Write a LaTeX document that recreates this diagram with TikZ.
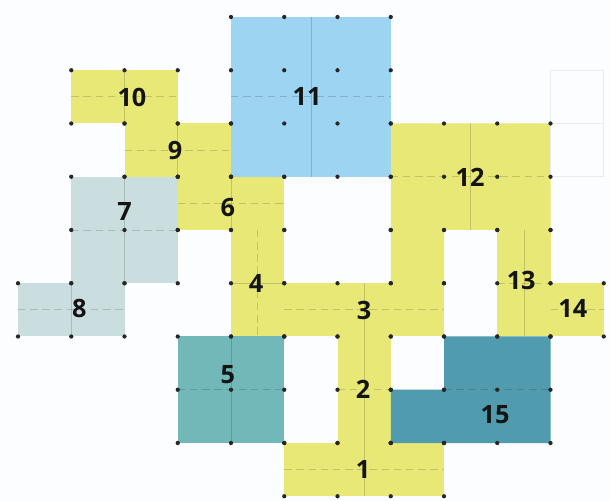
\documentclass[tikz,border=0pt]{standalone}
\usepackage{fontspec}
\setmainfont{Open Sans}
\definecolor{yel}{RGB}{231,232,118}
\definecolor{sky}{RGB}{156,212,242}
\definecolor{pale}{RGB}{202,222,224}
\definecolor{tealA}{RGB}{114,184,184}
\definecolor{tealB}{RGB}{80,155,174}
\definecolor{bgc}{RGB}{251,253,254}
\newcommand\gdots[4]{\foreach \ii in {#1,...,#2}{\foreach \jj in {#3,...,#4}{\fill[dotc] (\ii,\jj) circle (0.04);}}}
\begin{document}
\begin{tikzpicture}[x=1cm,y=-1cm,
  lab/.style={font=\fontsize{13.5}{15}\selectfont\bfseries, text=black!92, inner sep=0pt},
  dotc/.style={fill=black!85},
  inner/.style={draw=black, opacity=0.16, line width=0.4pt},
  midline/.style={inner, dash pattern=on 4pt off 2.5pt}]
\fill[bgc] (-0.338,-0.319) rectangle (11.117,9.089);
\useasboundingbox (-0.338,-0.319) rectangle (11.117,9.089);
% fills
\fill[yel] (5,8) rectangle (8,9);
\fill[yel] (6,6) rectangle (7,8);
\fill[yel] (5,5) rectangle (8,6);
\fill[yel] (4,4) rectangle (5,6);
\fill[tealA] (3,6) rectangle (5,8);
\fill[yel] (3,3) rectangle (5,4);
\fill[pale] (1,3) rectangle (3,5);
\fill[pale] (0,5) rectangle (2,6);
\fill[yel] (2,2) rectangle (4,3);
\fill[yel] (1,1) rectangle (3,2);
\fill[sky] (4,0) rectangle (7,3);
\fill[yel] (7,2) -- (10,2) -- (10,4) -- (8,4) -- (8,5) -- (7,5) -- cycle;
\fill[yel] (9,4) rectangle (10,6);
\fill[yel] (10,5) rectangle (11,6);
\fill[tealB] (8,6) -- (10,6) -- (10,8) -- (7,8) -- (7,7) -- (8,7) -- cycle;
\draw[black!8, line width=0.6pt] (10,1) rectangle (11,3) (10,2) -- (11,2);
% inner guide lines
\draw[midline] (5,8.5) -- (8,8.5);
\draw[inner] (6.5,8) -- (6.5,9);
\draw[inner] (6.5,6) -- (6.5,8);
\draw[midline] (6,7) -- (7,7);
\draw[midline] (5,5.5) -- (8,5.5);
\draw[inner] (6.5,5) -- (6.5,6);
\draw[midline] (4.5,4) -- (4.5,6);
\draw[inner] (4,5) -- (5,5);
\draw[midline] (3,7) -- (5,7);
\draw[inner] (4,6) -- (4,8);
\draw[midline] (3,3.5) -- (5,3.5);
\draw[inner] (4,3) -- (4,4);
\draw[midline] (1,4) -- (3,4);
\draw[inner] (2,3) -- (2,5);
\draw[midline] (0,5.5) -- (2,5.5);
\draw[inner] (1,5) -- (1,6);
\draw[midline] (2,2.5) -- (4,2.5);
\draw[inner] (3,2) -- (3,3);
\draw[midline] (1,1.5) -- (3,1.5);
\draw[inner] (2,1) -- (2,2);
\draw[midline] (4,1.5) -- (7,1.5);
\draw[inner] (5.5,0) -- (5.5,3);
\draw[midline] (7,3) -- (10,3);
\draw[inner] (8.5,2) -- (8.5,4);
\draw[inner] (9.5,4) -- (9.5,6);
\draw[midline] (9,5) -- (10,5);
\draw[midline] (10,5.5) -- (11,5.5);
\draw[midline] (8,7) -- (10,7);
% dots
\gdots{5}{8}{8}{9}
\gdots{6}{7}{6}{8}
\gdots{5}{8}{5}{6}
\gdots{4}{5}{4}{6}
\gdots{3}{5}{6}{8}
\gdots{3}{5}{3}{4}
\gdots{1}{3}{3}{5}
\gdots{0}{2}{5}{6}
\gdots{2}{4}{2}{3}
\gdots{1}{3}{1}{2}
\gdots{4}{7}{0}{3}
\gdots{7}{10}{2}{4}
\gdots{7}{8}{4}{5}
\gdots{9}{10}{4}{6}
\gdots{10}{11}{5}{6}
\gdots{8}{10}{6}{8}
\gdots{7}{8}{7}{8}
% labels
\node[lab] (n1) at (6.48,8.5) {1};
\node[lab] (n2) at (6.48,7.0) {2};
\node[lab] (n3) at (6.5,5.52) {3};
\node[lab] (n4) at (4.47,5.0) {4};
\node[lab] (n5) at (3.94,6.72) {5};
\node[lab] (n6) at (3.94,3.57) {6};
\node[lab] (n7) at (2.0,3.66) {7};
\node[lab] (n8) at (1.15,5.47) {8};
\node[lab] (n9) at (2.95,2.5) {9};
\node[lab] (n10) at (2.14,1.52) {10};
\node[lab] (n11) at (5.43,1.5) {11};
\node[lab] (n12) at (8.49,3.02) {12};
\node[lab] (n13) at (9.45,4.94) {13};
\node[lab] (n14) at (10.42,5.47) {14};
\node[lab] (n15) at (8.96,7.47) {15};
\end{tikzpicture}
\end{document}
